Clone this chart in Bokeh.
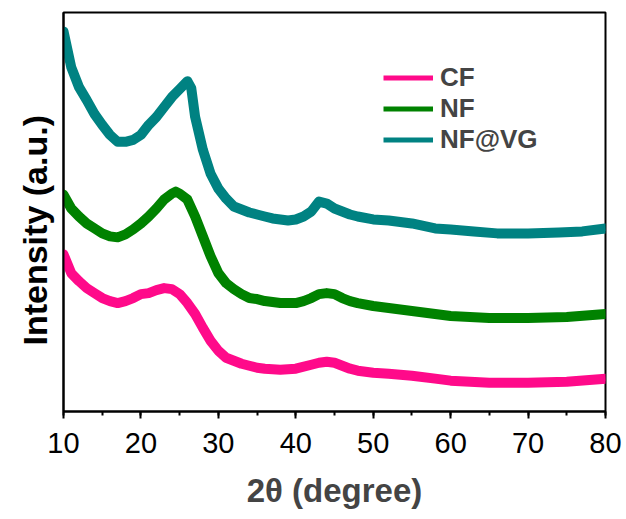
from bokeh.plotting import figure
from bokeh.models import Range1d, SingleIntervalTicker, FixedTicker, Legend, LegendItem, Title
from bokeh.embed import file_html
from bokeh.resources import INLINE

# 2theta positions (degree) and intensities (a.u.)
two_theta_vg = [10, 11, 12, 13, 14, 15, 16, 17, 18, 19, 20, 21, 22, 23, 24, 25, 26, 26.5, 27, 28, 29, 30,
                31, 32, 33, 34, 35, 36, 37, 38, 39, 40, 41, 42, 43, 44, 45, 46, 47, 48, 50, 52, 55,
                58, 60, 63, 66, 70, 74, 77, 80]
nf_vg = [382, 346, 326, 313, 299, 288, 278, 271, 271, 273, 278, 288, 296, 306, 316, 324, 332, 325, 296,
         263, 239, 224, 214, 206, 203, 200, 198, 196, 194, 193, 192, 193, 196, 201, 211, 209, 204,
         201, 198, 196, 193, 192, 189, 184, 183, 181, 179, 179, 180, 181, 184]

two_theta_nf = [10, 11, 12, 13, 14, 15, 16, 17, 18, 19, 20, 21, 22, 23, 24, 24.5, 25, 26, 27, 28, 29, 30,
                31, 32, 33, 34, 35, 36, 38, 40, 41, 42, 43, 44, 45, 46, 47, 48, 50, 52, 55, 58, 60,
                65, 70, 75, 80]
nf = [218, 204, 196, 189, 184, 179, 176, 175, 178, 183, 189, 196, 204, 213, 219, 221, 219, 213, 196,
      176, 156, 139, 129, 123, 118, 114, 113, 111, 109, 109, 111, 114, 118, 119, 118, 114, 111, 109,
      106, 104, 101, 98, 96, 94, 94, 95, 98]

two_theta_cf = [10, 11, 12, 13, 14, 15, 16, 17, 18, 19, 20, 21, 22, 23, 24, 25, 26, 27, 28, 29, 30,
                31, 32, 33, 34, 35, 36, 38, 40, 42, 43, 44, 45, 46, 47, 48, 50, 52, 55, 58, 60,
                65, 70, 75, 80]
cf = [158, 139, 131, 124, 119, 114, 111, 109, 111, 114, 118, 119, 122, 124, 123, 118, 109, 98, 84,
      71, 61, 54, 51, 48, 46, 44, 43, 42, 43, 47, 49, 50, 49, 46, 43, 41, 39, 38, 36, 33, 31,
      29, 29, 30, 33]

series_names = ["CF", "NF", "NF@VG"]
series_colors = ["#FF0A8A", "#008200", "#008282"]

FONT = "Liberation Sans"

p = figure(width=626, height=519, output_backend="svg", toolbar_location=None,
           x_range=Range1d(10, 80), y_range=Range1d(0, 401),
           min_border_left=63, min_border_right=21, min_border_top=12, min_border_bottom=108)
p.frame_width = 542
p.frame_height = 399

p.xgrid.visible = False
p.ygrid.visible = False
p.outline_line_color = "black"
p.outline_line_width = 2
p.background_fill_color = "white"
p.border_fill_color = "white"

data = [(two_theta_cf, cf), (two_theta_nf, nf), (two_theta_vg, nf_vg)]

legend_items = []
for (xs, ys), name, col in zip(data, series_names, series_colors):
    thin = p.line(xs, ys, line_color=col, line_width=5)
    legend_items.append(LegendItem(label=name, renderers=[thin]))
for (xs, ys), name, col in zip(data, series_names, series_colors):
    p.line(xs, ys, line_color=col, line_width=10, line_join="round", line_cap="round")

# x axis
xa = p.xaxis[0]
xa.ticker = SingleIntervalTicker(interval=10, num_minor_ticks=2)
xa.axis_label = "2θ (degree)"
xa.axis_label_text_font = FONT
xa.axis_label_text_font_style = "bold"
xa.axis_label_text_font_size = "33px"
xa.axis_label_standoff = 16
xa.major_label_text_font = FONT
xa.major_label_text_font_size = "29px"
xa.major_label_text_color = "black"
xa.major_label_standoff = 14
xa.axis_line_width = 2
xa.major_tick_line_width = 2
xa.minor_tick_line_width = 2
xa.major_tick_in = 0
xa.major_tick_out = 7
xa.minor_tick_in = 0
xa.minor_tick_out = 4

# y axis (no ticks); its label is set as a side title so it can sit where the reference has it
ya = p.yaxis[0]
ya.ticker = FixedTicker(ticks=[])
ya.major_tick_line_color = None
ya.minor_tick_line_color = None
ya.axis_line_width = 2

ylabel = Title(text="Intensity (a.u.)", align="left", offset=66, standoff=19,
               text_font=FONT, text_font_style="bold", text_font_size="34px", text_color="black")
p.add_layout(ylabel, "left")

legend = Legend(items=legend_items, location=(320, 256))
legend.border_line_color = None
legend.background_fill_alpha = 0
legend.padding = 0
legend.margin = 0
legend.spacing = 0
legend.glyph_width = 50
legend.glyph_height = 31
legend.label_height = 31
legend.label_standoff = 7
legend.label_text_font = FONT
legend.label_text_font_style = "bold"
legend.label_text_font_size = "26px"
p.add_layout(legend)

open("out.html", "w").write(file_html(p, INLINE))
